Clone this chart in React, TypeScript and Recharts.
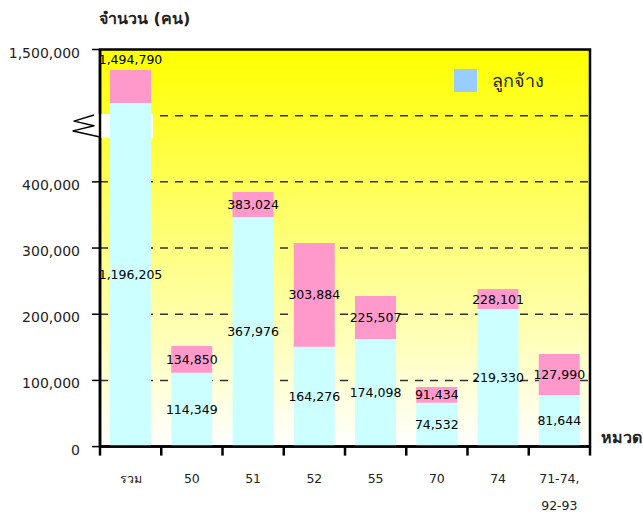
import React from 'react';
import { ComposedChart, Bar, XAxis, YAxis, CartesianGrid, LabelList, ReferenceArea } from 'recharts';

// Categories (x axis)
const categories = ['รวม', '50', '51', '52', '55', '70', '74', '71-74,\n92-93'];
// Heights of the cyan (employee) segment as drawn on the chart's axis (people)
const employeeBarTop = [1095000, 111600, 346800, 150900, 162500, 66300, 207900, 78000];
// Top of the pink segment as drawn on the chart's axis (people)
const totalBarTop = [1345000, 152000, 384600, 307500, 227500, 90000, 238000, 139900];
// Printed labels
const totalLabels = [1494790, 134850, 383024, 303884, 225507, 91434, 228101, 127990];
const employeeLabels = [1196205, 114349, 367976, 164276, 174098, 74532, 219330, 81644];
// Axis ticks (real values)
const yTickValues = [0, 100000, 200000, 300000, 400000, 1500000];
const gridValues = [100000, 200000, 300000, 400000, 1000000];

// Broken axis: values up to 500,000 are linear; 1,000,000..1,500,000 are compressed above it
const BREAK_DISPLAY = 500000;
const TOP_DISPLAY = 600000;
const BREAK_REAL = 1000000;
const TOP_REAL = 1500000;
const toDisplay = (v: number) =>
  v <= BREAK_DISPLAY ? v : BREAK_DISPLAY + ((v - BREAK_REAL) * (TOP_DISPLAY - BREAK_DISPLAY)) / (TOP_REAL - BREAK_REAL);
const fromDisplay = (d: number) =>
  d <= BREAK_DISPLAY ? d : BREAK_REAL + ((d - BREAK_DISPLAY) * (TOP_REAL - BREAK_REAL)) / (TOP_DISPLAY - BREAK_DISPLAY);

const data = categories.map((c, i) => ({
  cat: c,
  lower: toDisplay(employeeBarTop[i]),
  upper: toDisplay(totalBarTop[i]) - toDisplay(employeeBarTop[i]),
}));

const FONT = "'DejaVu Sans', sans-serif";
const fmt = (v: number) => v.toLocaleString('en-US');

const XTick = (props: any) => {
  const { x, y, payload, index } = props;
  const half = 490 / categories.length / 2;
  const lines = String(payload.value).split('\n');
  return (
    <g>
      <line x1={x - half} x2={x - half} y1={y} y2={y + 9} stroke="#000" strokeWidth={2.5} />
      {index === categories.length - 1 && (
        <line x1={x + half} x2={x + half} y1={y} y2={y + 9} stroke="#000" strokeWidth={2.5} />
      )}
      {lines.map((l, i) => (
        <text key={i} x={x} y={y + 32 + i * 27} textAnchor="middle" dominantBaseline="central" fontSize={12.5} fill="#222" fontFamily={FONT}>
          {l}
        </text>
      ))}
    </g>
  );
};

const YTick = (props: any) => {
  const { x, y, payload } = props;
  return (
    <text x={x} y={y + 3} textAnchor="end" dominantBaseline="central" fontSize={14} fill="#222" fontFamily={FONT}>
      {fmt(Math.round(fromDisplay(payload.value)))}
    </text>
  );
};

const lowerLabel = (props: any) => {
  const { x, y, width, height, index } = props;
  return (
    <text x={x + width / 2} y={y + height / 2} textAnchor="middle" dominantBaseline="central" fontSize={12.5} fill="#000" fontFamily={FONT}>
      {fmt(employeeLabels[index])}
    </text>
  );
};

const upperLabel = (props: any) => {
  const { x, y, width, height, index } = props;
  const cy = index === 0 ? y - 11 : y + height / 2;
  return (
    <text x={x + width / 2} y={cy} textAnchor="middle" dominantBaseline="central" fontSize={12.5} fill="#000" fontFamily={FONT}>
      {fmt(totalLabels[index])}
    </text>
  );
};

const BreakMark = (props: any) => {
  const { x, y, height } = props;
  const h = height;
  const d = `M ${x - 6} ${y + 1} L ${x - 26} ${y + h * 0.3} L ${x - 6} ${y + h * 0.5} L ${x - 27} ${y + h * 0.72} L ${x} ${y + h * 0.98}`;
  return (
    <g>
      <rect x={x - 2} y={y} width={55} height={h} fill="#FFFFFF" />
      <path d={d} fill="none" stroke="#000" strokeWidth={1.4} strokeLinejoin="round" />
    </g>
  );
};

export default function App() {
  return (
    <div style={{ position: 'absolute', left: 0, top: 0, width: 643, height: 516, fontFamily: FONT, background: '#fff' }}>
      <svg width={0} height={0} style={{ position: 'absolute' }}>
        <defs>
          <linearGradient id="plotBg" x1="0" y1="0" x2="0" y2="1">
            <stop offset="0" stopColor="#FFFF00" />
            <stop offset="1" stopColor="#FFFFFF" />
          </linearGradient>
        </defs>
      </svg>
      <ComposedChart
        width={643}
        height={516}
        data={data}
        margin={{ top: 49.5, right: 53, bottom: 9.4, left: 0 }}
        barSize={41}
      >
        <CartesianGrid
          vertical={false}
          horizontalValues={gridValues.map(toDisplay)}
          stroke="#333"
          strokeWidth={1.5}
          strokeDasharray="8 7"
          fill="url(#plotBg)"
          fillOpacity={1}
        />
        <XAxis
          dataKey="cat"
          height={60}
          tickSize={0}
          tickMargin={0}
          interval={0}
          axisLine={{ stroke: '#000', strokeWidth: 2.5 }}
          tickLine={false}
          tick={<XTick />}
        />
        <YAxis
          type="number"
          domain={[0, TOP_DISPLAY]}
          ticks={yTickValues.map(toDisplay)}
          interval={0}
          width={100}
          tickSize={8}
          tickMargin={12}
          axisLine={{ stroke: '#000', strokeWidth: 2.5 }}
          tickLine={{ stroke: '#000', strokeWidth: 1.5 }}
          tick={<YTick />}
        />
        <Bar dataKey="lower" stackId="s" fill="#CCFFFF" isAnimationActive={false}>
          <LabelList dataKey="lower" content={lowerLabel} />
        </Bar>
        <Bar dataKey="upper" stackId="s" fill="#FF99CC" isAnimationActive={false}>
          <LabelList dataKey="upper" content={upperLabel} />
        </Bar>
        <ReferenceArea y1={0} y2={TOP_DISPLAY} fill="none" stroke="#000" strokeWidth={2.5} ifOverflow="visible" />
        <ReferenceArea y1={467000} y2={502500} shape={BreakMark} ifOverflow="visible" />
      </ComposedChart>
      <div style={{ position: 'absolute', left: 99, top: 6, fontSize: 16, fontWeight: 'bold', color: '#222', whiteSpace: 'nowrap' }}>
        จำนวน (คน)
      </div>
      <div style={{ position: 'absolute', left: 601, top: 425, fontSize: 16, fontWeight: 'bold', color: '#222', whiteSpace: 'nowrap' }}>
        หมวด
      </div>
      <div style={{ position: 'absolute', left: 454, top: 69, width: 23, height: 23, background: '#99CCFF' }} />
      <div style={{ position: 'absolute', left: 492, top: 66, fontSize: 18, color: '#222', whiteSpace: 'nowrap' }}>
        ลูกจ้าง
      </div>
    </div>
  );
}
